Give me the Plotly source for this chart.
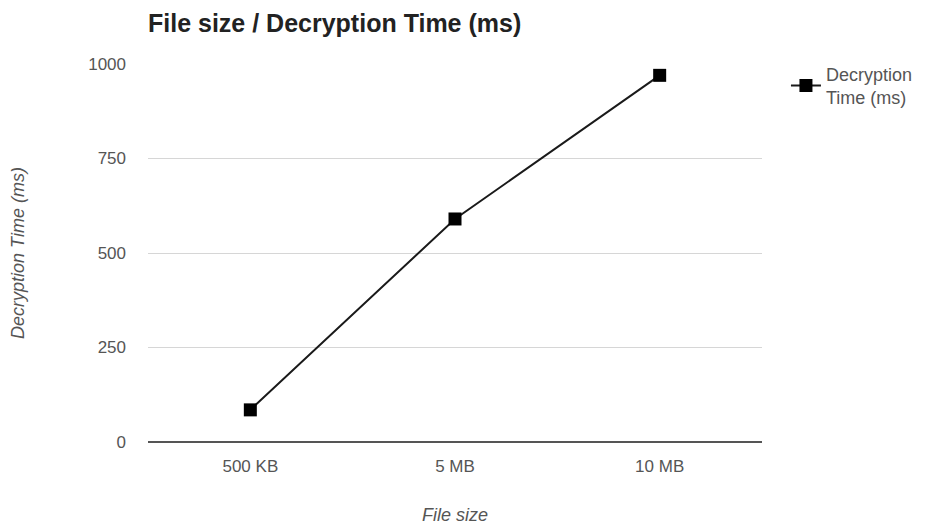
import plotly.graph_objects as go

categories = ["500 KB", "5 MB", "10 MB"]
decryption_ms = [85, 590, 970]
y_ticks = [0, 250, 500, 750, 1000]

fig = go.Figure()
fig.add_trace(go.Scatter(
    x=categories, y=decryption_ms, mode="lines+markers",
    name="Decryption<br>Time (ms)",
    line=dict(color="#1a1a1a", width=2),
    marker=dict(symbol="square", size=13, color="#000000"),
))

font_family = "Liberation Sans, Arial, sans-serif"
fig.update_layout(
    width=922, height=521,
    margin=dict(l=140, r=168, t=56, b=87),
    paper_bgcolor="white", plot_bgcolor="white",
    font=dict(family=font_family, size=17, color="#555555"),
    title=dict(text="<b>File size / Decryption Time (ms)</b>", x=140/922, xanchor="left",
               y=1-15.5/521, yanchor="middle", font=dict(size=25, color="#222222")),
    showlegend=True,
    legend=dict(x=1.039, xanchor="left", y=1.022, yanchor="top",
                font=dict(size=18, color="#555555"), bgcolor="rgba(0,0,0,0)"),
    xaxis=dict(title=dict(text="<i>File size</i>", font=dict(size=18, color="#555555"), standoff=33),
               automargin=False,
               showgrid=False, showline=False, zeroline=False, ticks="", ticklabelstandoff=12,
               range=[-0.5, 2.5], tickfont=dict(size=17, color="#555555")),
    yaxis=dict(title=dict(text="<i>Decryption Time (ms)</i>", font=dict(size=18, color="#555555"), standoff=60),
               automargin=False,
               range=[0, 1000], tickvals=y_ticks, showgrid=True, gridcolor="#d6d6d6", gridwidth=1,
               zeroline=True, zerolinecolor="#555555", zerolinewidth=1.5,
               showline=False, ticks="", ticklabelstandoff=21, tickfont=dict(size=17, color="#555555")),
)

fig.write_html("out.html")
